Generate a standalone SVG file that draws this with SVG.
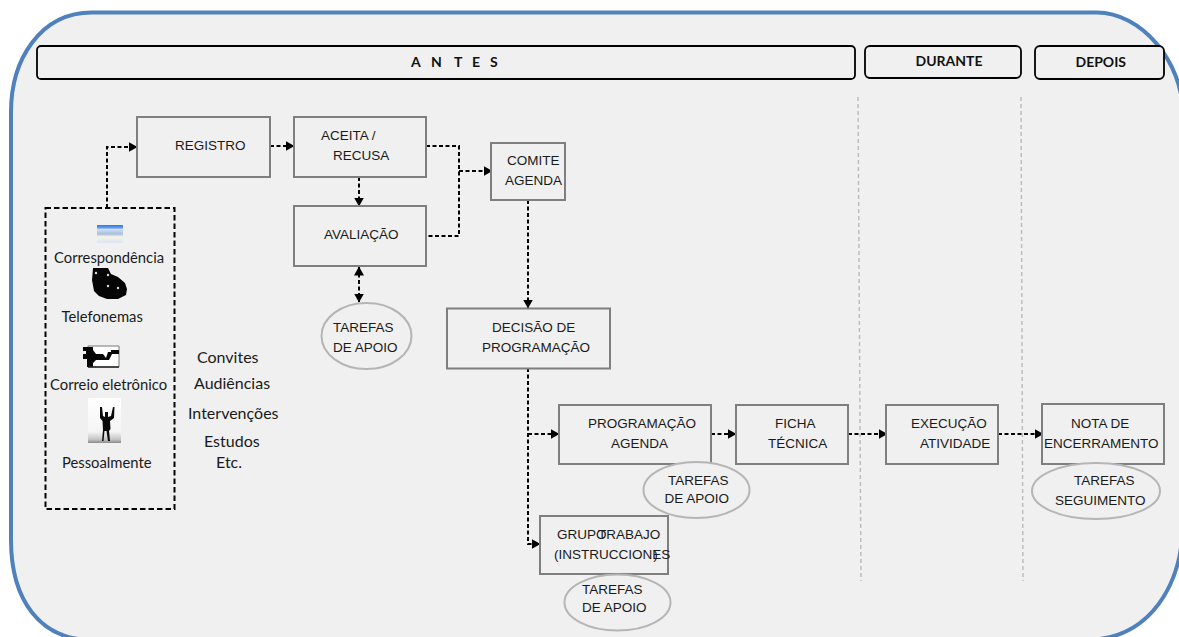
<svg xmlns="http://www.w3.org/2000/svg" width="1179" height="637" viewBox="0 0 1179 637">
<defs>
<style>
.box{fill:#f0f0f0;stroke:#7f7f7f;stroke-width:2}
.ell{fill:#f0f0f0;stroke:#b5b5b5;stroke-width:2}
.hdr{fill:#f0f0f0;stroke:#000;stroke-width:1.800}
.sep{fill:none;stroke:#bdbdbd;stroke-width:1.500;stroke-dasharray:4 3}
.con{fill:none;stroke:#000;stroke-width:2;stroke-dasharray:4 2.500}
.t{font-family:"Liberation Sans",Arial,sans-serif;font-size:13.500px;fill:#1a1a1a}
.c{font-family:Lato,"Open Sans",sans-serif;font-size:14.800px;fill:#1a1a1a}
.p{font-family:Lato,"Open Sans",sans-serif;font-size:16px;fill:#1a1a1a}
.h{font-family:Lato,"Open Sans",sans-serif;font-size:14px;font-weight:700;fill:#111}
</style>
<marker id="arr" viewBox="0 0 9 10" refX="8.500" refY="5" markerWidth="9" markerHeight="10" markerUnits="userSpaceOnUse" orient="auto-start-reverse"><path d="M0 0L9 5L0 10Z" fill="#000"/></marker>
<linearGradient id="mail" x1="0" y1="0" x2="0" y2="1"><stop offset="0" stop-color="#2f7ae8"/><stop offset=".15" stop-color="#5f9cec"/><stop offset=".25" stop-color="#cfdcf2"/><stop offset=".5" stop-color="#a8bfe2"/><stop offset=".65" stop-color="#f6f4e4"/><stop offset="1" stop-color="#dbe5f4"/></linearGradient>
<linearGradient id="ph" x1="0" y1="0" x2="0" y2="1"><stop offset="0" stop-color="#fff"/><stop offset=".75" stop-color="#f4f4f4"/><stop offset=".92" stop-color="#c4c4c4"/><stop offset="1" stop-color="#8a8a8a"/></linearGradient>
</defs>
<rect width="1179" height="637" fill="#fff"/>
<path id="frame" d="M92 12.500H1097C1140 12.500 1183 60 1183 115V520C1183 585 1150 640 1085 640H92C40 640 11 600 11 540V112C11 60 40 12.500 92 12.500Z" fill="#f0f0f0" stroke="#4f81bd" stroke-width="4"/>
<g id="hdr-antes"><rect class="hdr" x="37" y="46" width="818" height="33" rx="4"/><text class="h" y="66.500" x="411 431 454 472 490">ANTES</text></g>
<g id="hdr-durante"><rect class="hdr" x="865" y="46" width="156" height="32" rx="5"/><text class="h" x="915.500" y="65.500">DURANTE</text></g>
<g id="hdr-depois"><rect class="hdr" x="1035" y="46" width="129" height="33" rx="5"/><text class="h" x="1075.500" y="66.500">DEPOIS</text></g>
<g id="separators"><path class="sep" d="M858 97L861 581"/><path class="sep" d="M1021 97L1023 581"/></g>
<g id="connectors">
<path class="con" d="M107 208V147H137" marker-end="url(#arr)"/>
<path class="con" d="M270 146H294" marker-end="url(#arr)"/>
<path class="con" d="M359 177V206" marker-end="url(#arr)"/>
<path class="con" d="M426 146H459V236H426"/>
<path class="con" d="M459 171H492" stroke-width="2.600" marker-end="url(#arr)"/>
<path class="con" d="M359 267V302" stroke-width="1.600" marker-start="url(#arr)" marker-end="url(#arr)"/>
<path class="con" d="M528 200V308" marker-end="url(#arr)"/>
<path class="con" d="M528 368V544H540" marker-end="url(#arr)"/>
<path class="con" d="M528 434H559" marker-end="url(#arr)"/>
<path class="con" d="M711 434H736" marker-end="url(#arr)"/>
<path class="con" d="M848 434H887" marker-end="url(#arr)"/>
<path class="con" d="M998 434H1043" marker-end="url(#arr)"/>
</g>
<g id="origem"><rect x="45.500" y="208" width="129" height="301" fill="none" stroke="#000" stroke-width="2" stroke-dasharray="5.500 3"/>
<g id="icon-mail"><rect x="97" y="225" width="26" height="18" fill="url(#mail)"/></g>
<text class="c" x="54" y="263">Correspondência</text>
<g id="icon-phone"><path d="M93 268H108L111 274L118 277L125 283L127 289L126 295L118 299H107L99 296L94 291L92 280Z" fill="#050505"/><circle cx="96" cy="273" r="1.200" fill="#ddd"/><circle cx="108" cy="275" r="1.200" fill="#ddd"/><circle cx="108" cy="286" r="1.200" fill="#ddd"/><circle cx="118" cy="288" r="1.200" fill="#ddd"/></g>
<text class="c" x="61.500" y="322">Telefonemas</text>
<g id="icon-fax"><path d="M88 346H119V367H88Z" fill="#fff" stroke="#777"/><path d="M83 347H93V350L96 354H103L106 358L108 352H111V350H119V354H112L109 360H96L93 363V367H87V359H83V354H86V351H83Z" fill="#050505"/><path d="M88 367H119" stroke="#222" stroke-width="1.500"/></g>
<text class="c" x="50" y="390">Correio eletrônico</text>
<g id="icon-person"><rect x="88" y="398" width="33" height="45" fill="url(#ph)"/><path d="M100 407H102L103 416L105 417V412H108V417L111 416L113 407H114.500L114 418L110 421L110.500 429L109 431L110 441H108L106.500 431L104.500 431L103.500 441H102L103 430L102.500 421L100 418Z" fill="#0a0a0a"/></g>
<text class="c" x="62" y="468">Pessoalmente</text></g>
<g id="tipos"><text class="p" x="197" y="363">Convites</text><text class="p" x="194" y="389">Audiências</text><text class="p" x="188" y="419">Intervenções</text><text class="p" x="204" y="447">Estudos</text><text class="p" x="216" y="468">Etc.</text></g>
<g id="registro"><rect class="box" x="137" y="117" width="133" height="60"/><text class="t" x="175" y="150">REGISTRO</text></g>
<g id="aceita"><rect class="box" x="294" y="117" width="132" height="60"/><text class="t" x="321" y="140">ACEITA /</text><text class="t" x="333" y="160">RECUSA</text></g>
<g id="avaliacao"><rect class="box" x="294" y="206" width="132" height="60"/><text class="t" x="324" y="239">AVALIAÇÃO</text></g>
<g id="comite"><rect class="box" x="491" y="143" width="74" height="57"/><text class="t" x="507" y="165">COMITE</text><text class="t" x="505" y="185">AGENDA</text></g>
<g id="tarefas1"><ellipse class="ell" cx="366.500" cy="336" rx="45" ry="33"/><text class="t" x="333" y="332">TAREFAS</text><text class="t" x="333" y="352">DE APOIO</text></g>
<g id="decisao"><rect class="box" x="447" y="308.500" width="163" height="60"/><text class="t" x="492" y="332">DECISÃO DE</text><text class="t" x="482" y="352">PROGRAMAÇÃO</text></g>
<g id="programacao"><rect class="box" x="559" y="405" width="152" height="59"/><text class="t" x="588" y="428">PROGRAMAÇÃO</text><text class="t" x="611" y="448">AGENDA</text></g>
<g id="tarefas2"><ellipse class="ell" cx="696.500" cy="490" rx="53" ry="28"/><text class="t" x="668" y="485">TAREFAS</text><text class="t" x="664.500" y="503">DE APOIO</text></g>
<g id="ficha"><rect class="box" x="736" y="405" width="112" height="59"/><text class="t" x="775" y="428">FICHA</text><text class="t" x="768" y="448">TÉCNICA</text></g>
<g id="grupo"><rect class="box" x="540" y="516" width="128" height="58"/><text class="t" x="557" y="539" word-spacing="-12">GRUPO TRABAJO</text><text class="t" x="554" y="559">(INSTRUCCIONES<tspan dx="-17">)</tspan></text></g>
<g id="tarefas3"><ellipse class="ell" cx="617.500" cy="602.500" rx="53" ry="28"/><text class="t" x="582" y="594">TAREFAS</text><text class="t" x="582" y="612">DE APOIO</text></g>
<g id="execucao"><rect class="box" x="886" y="405" width="112" height="59"/><text class="t" x="911" y="428">EXECUÇÃO</text><text class="t" x="920" y="448">ATIVIDADE</text></g>
<g id="nota"><rect class="box" x="1042" y="404" width="122" height="60"/><text class="t" x="1071" y="428">NOTA DE</text><text class="t" x="1044" y="448">ENCERRAMENTO</text></g>
<g id="seguimento"><ellipse class="ell" cx="1096" cy="491" rx="64" ry="28"/><text class="t" x="1074" y="485">TAREFAS</text><text class="t" x="1055" y="505">SEGUIMENTO</text></g>
</svg>
